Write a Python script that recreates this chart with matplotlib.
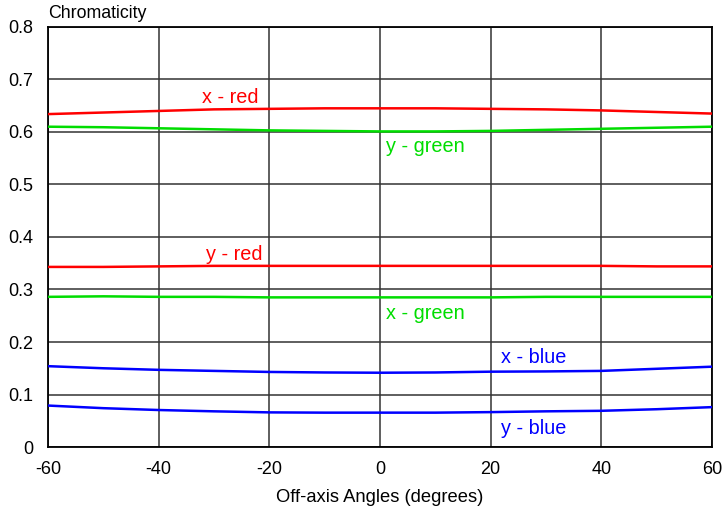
import numpy as np
import matplotlib
matplotlib.use("Agg")
import matplotlib.pyplot as plt

plt.rcParams["font.family"] = ["Liberation Sans", "DejaVu Sans"]

angles = [-60, -50, -40, -30, -20, -10, 0, 10, 20, 30, 40, 50, 60]
x_red = [0.634, 0.637, 0.640, 0.643, 0.644, 0.645, 0.645, 0.645, 0.644, 0.643, 0.641, 0.638, 0.635]
y_green = [0.610, 0.609, 0.607, 0.605, 0.603, 0.602, 0.601, 0.601, 0.602, 0.604, 0.606, 0.608, 0.610]
y_red = [0.343, 0.343, 0.344, 0.345, 0.345, 0.345, 0.345, 0.345, 0.345, 0.345, 0.345, 0.344, 0.344]
x_green = [0.286, 0.287, 0.286, 0.286, 0.285, 0.285, 0.285, 0.285, 0.285, 0.286, 0.286, 0.286, 0.286]
x_blue = [0.154, 0.150, 0.147, 0.145, 0.143, 0.142, 0.1415, 0.142, 0.1435, 0.144, 0.145, 0.149, 0.153]
y_blue = [0.079, 0.074, 0.0705, 0.068, 0.066, 0.0655, 0.0655, 0.0655, 0.0665, 0.068, 0.069, 0.072, 0.076]

series = [
    (x_red, "#ff0000", "x - red", -27, 0.665),
    (y_green, "#00dd00", "y - green", 8.3, 0.573),
    (y_red, "#ff0000", "y - red", -26.4, 0.366),
    (x_green, "#00dd00", "x - green", 8.3, 0.255),
    (x_blue, "#0000ff", "x - blue", 27.7, 0.171),
    (y_blue, "#0000ff", "y - blue", 27.7, 0.036),
]

xticks = [-60, -40, -20, 0, 20, 40, 60]
yticks = [0, 0.1, 0.2, 0.3, 0.4, 0.5, 0.6, 0.7, 0.8]
ytick_labels = ["0", "0.1", "0.2", "0.3", "0.4", "0.5", "0.6", "0.7", "0.8"]

fig = plt.figure(figsize=(7.22, 5.08), dpi=100)
ax = fig.add_axes([0.0665, 0.120, 0.9195, 0.827])

for vals, color, label, lx, ly in series:
    ax.plot(angles, vals, color=color, lw=1.8, zorder=3)
    ax.text(lx, ly, label, color=color, fontsize=14.3, ha="center", va="center")

ax.set_xlim(-60, 60)
ax.set_ylim(0, 0.8)
ax.set_xticks(xticks)
ax.set_xticklabels([str(t) for t in xticks])
ax.set_yticks(yticks)
ax.set_yticklabels(ytick_labels)
ax.tick_params(length=0, labelsize=13)
ax.tick_params(axis="y", pad=10.5)
ax.tick_params(axis="x", pad=10)
ax.grid(True, color="#333333", lw=1.1)
for s in ax.spines.values():
    s.set_color("black")
    s.set_linewidth(1.3)

ax.set_xlabel("Off-axis Angles (degrees)", fontsize=13.2, labelpad=8)
fig.text(0.0665, 0.973, "Chromaticity", fontsize=12.8, ha="left", va="center")

fig.savefig("out.png", dpi=100)
